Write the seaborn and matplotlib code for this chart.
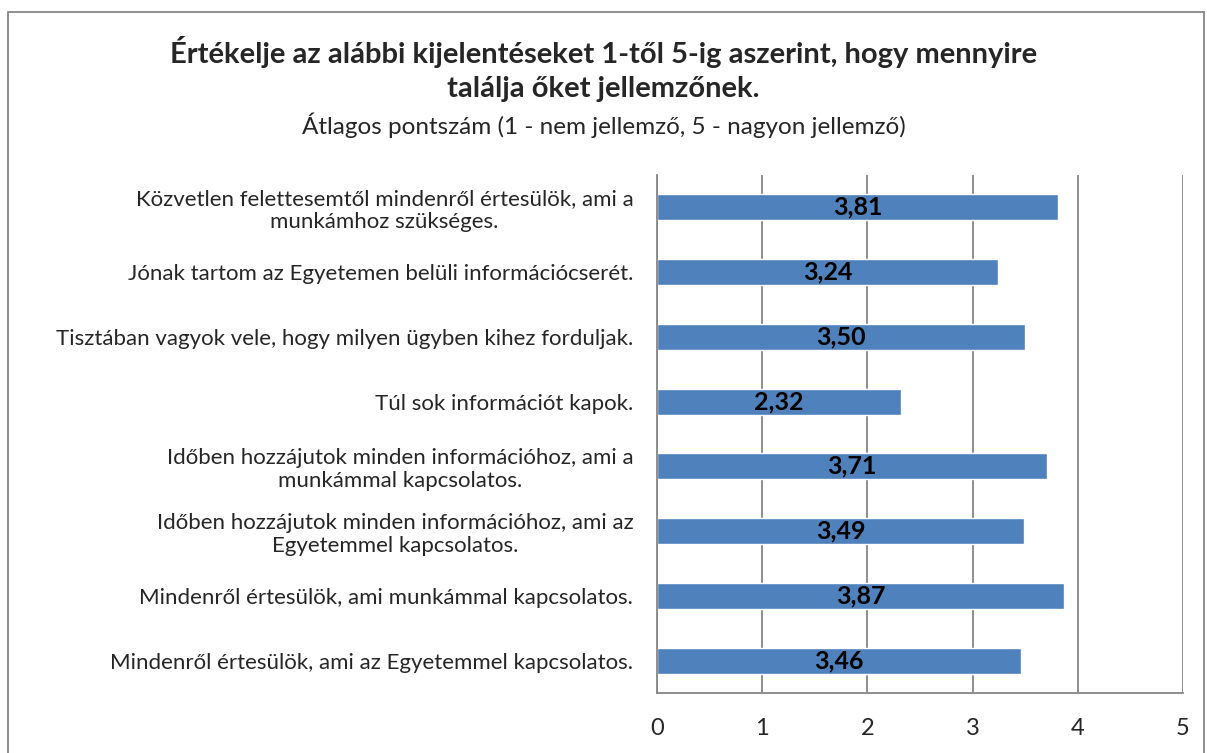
import matplotlib
matplotlib.use("Agg")
import matplotlib.pyplot as plt
import seaborn as sns
from matplotlib.patches import Rectangle

sns.set_style("white")
plt.rcParams["font.family"] = ["Lato", "DejaVu Sans"]

# Data
statements = [
    "Közvetlen felettesemtől mindenről értesülök, ami a\nmunkámhoz szükséges.",
    "Jónak tartom az Egyetemen belüli információcserét.",
    "Tisztában vagyok vele, hogy milyen ügyben kihez forduljak.",
    "Túl sok információt kapok.",
    "Időben hozzájutok minden információhoz, ami a\nmunkámmal kapcsolatos.",
    "Időben hozzájutok minden információhoz, ami az\nEgyetemmel kapcsolatos.",
    "Mindenről értesülök, ami munkámmal kapcsolatos.",
    "Mindenről értesülök, ami az Egyetemmel kapcsolatos.",
]
scores = [3.81, 3.24, 3.50, 2.32, 3.71, 3.49, 3.87, 3.46]
x_ticks = [0, 1, 2, 3, 4, 5]

fig = plt.figure(figsize=(12.07, 7.53), dpi=100)
ax = fig.add_axes([0.5443, 0.0797, 0.9801 - 0.5443, 0.7676 - 0.0797])

sns.barplot(x=scores, y=statements, orient="h", color="#4F81BD",
            saturation=1, width=0.4, ax=ax)

# value labels centered in the bars
for i, v in enumerate(scores):
    ax.text(v / 2, i, f"{v:.2f}".replace(".", ","), ha="center", va="center",
            fontsize=18, fontweight="bold", color="black")

ax.set_xlim(0, 5)
ax.set_ylim(len(statements) - 0.5, -0.5)
ax.set_xticks(x_ticks)
ax.set_xticklabels([str(t) for t in x_ticks], fontsize=17)
ax.xaxis.grid(True, color="#868686", linewidth=1.3)
ax.set_axisbelow(True)
ax.set_xlabel("")
ax.set_ylabel("")

# category boundary ticks on the y axis
ax.set_yticks([i - 0.5 for i in range(len(statements) + 1)], minor=True)
ax.tick_params(axis="y", which="major", length=0, pad=17, labelsize=16)
ax.tick_params(axis="y", which="minor", length=6, color="#868686", width=1.3)
ax.tick_params(axis="x", which="major", length=6, color="#868686", width=1.3,
               pad=12)
for lbl in ax.get_yticklabels():
    lbl.set_multialignment("center")
    lbl.set_linespacing(1.15)

for side in ["top", "right"]:
    ax.spines[side].set_visible(False)
for side in ["left", "bottom"]:
    ax.spines[side].set_color("#868686")
    ax.spines[side].set_linewidth(1.3)

# titles
fig.text(0.5, 1 - 52 / 753, "Értékelje az alábbi kijelentéseket 1-től 5-ig aszerint, hogy mennyire",
         ha="center", va="center", fontsize=21, fontweight="bold")
fig.text(0.5, 1 - 89 / 753, "találja őket jellemzőnek.",
         ha="center", va="center", fontsize=21, fontweight="bold")
fig.text(0.5, 1 - 125 / 753, "Átlagos pontszám (1 - nem jellemző, 5 - nagyon jellemző)",
         ha="center", va="center", fontsize=17.5)

# outer chart frame
fig.patches.append(Rectangle((8 / 1207, -0.01), 1 - 11 / 1207, 1 - 12 / 753 + 0.01,
                             transform=fig.transFigure, fill=False,
                             edgecolor="#868686", linewidth=1.3))

fig.savefig("out.png", dpi=100)
